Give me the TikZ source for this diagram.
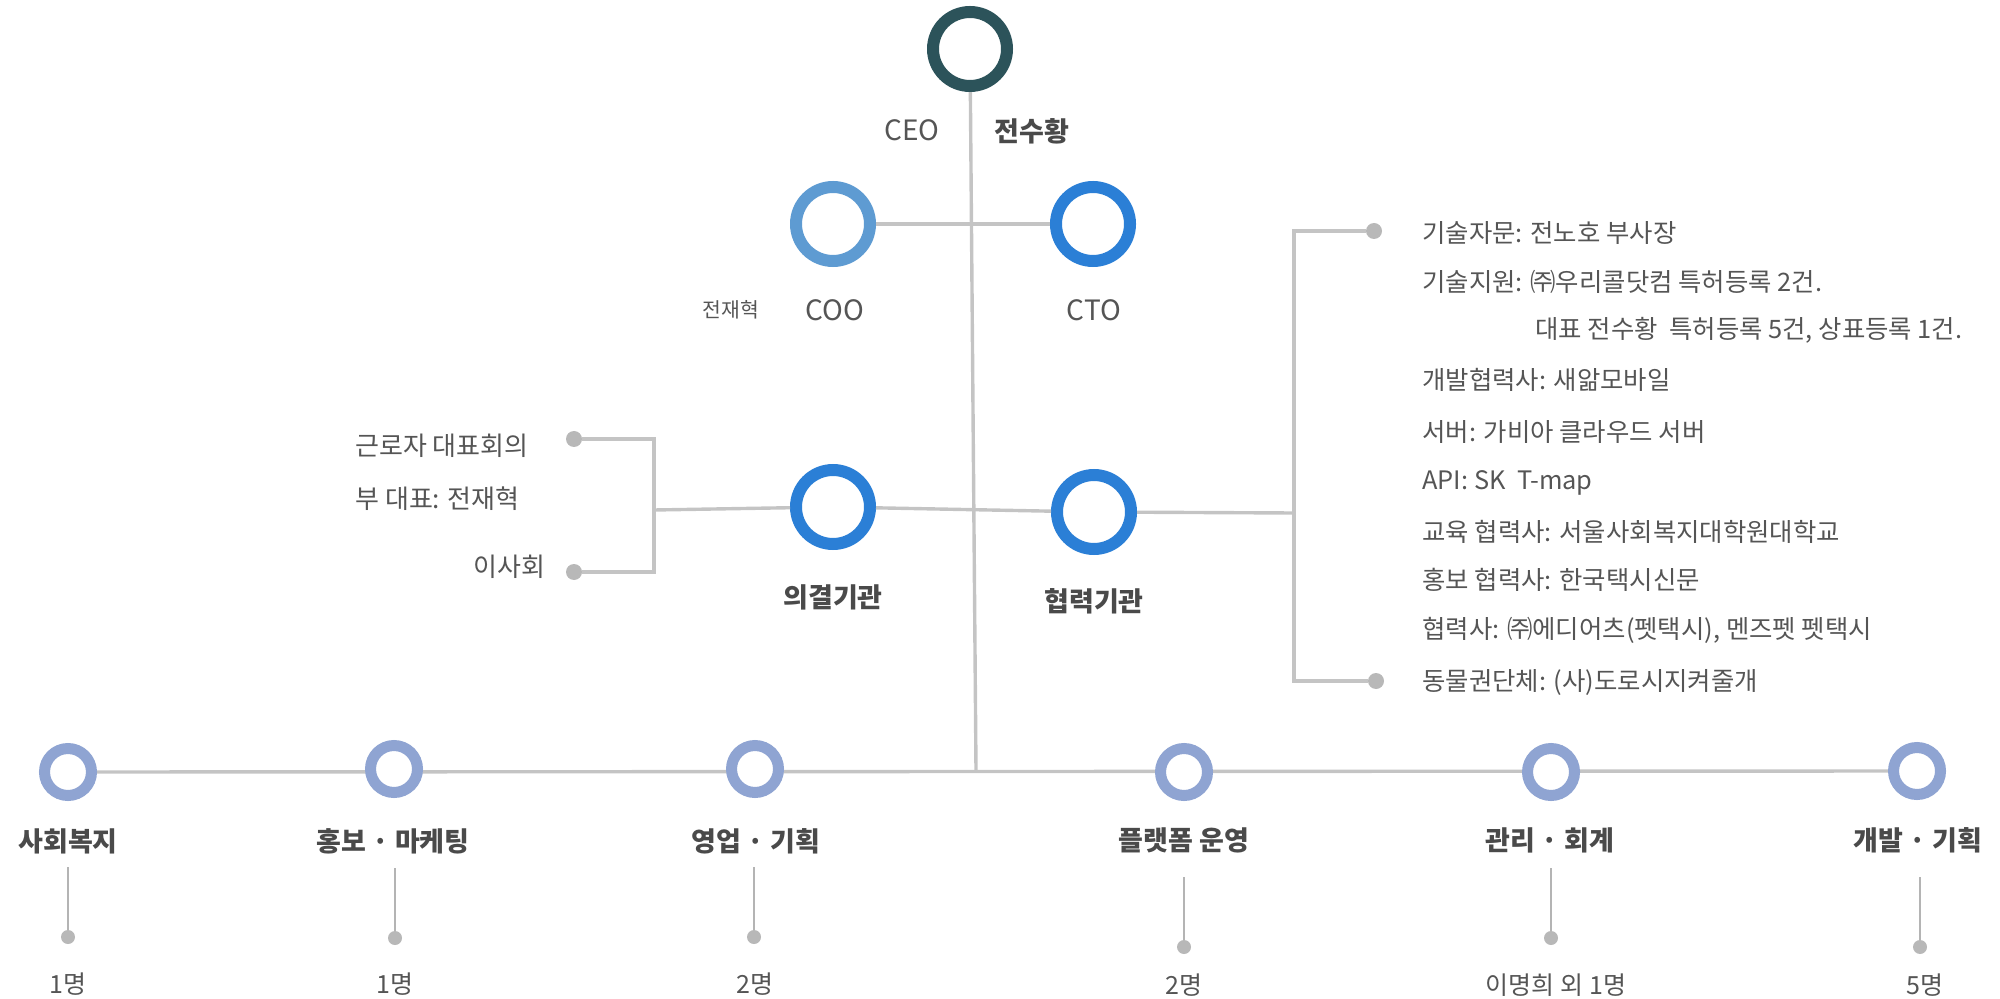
\documentclass[tikz,border=0pt]{standalone}
\usepackage{fontspec}
\setmainfont{Noto Sans CJK KR}
\usetikzlibrary{backgrounds}
\definecolor{ceoC}{HTML}{2C535A}
\definecolor{cooC}{HTML}{5E9BD2}
\definecolor{blueC}{HTML}{2B7FD6}
\definecolor{deptC}{HTML}{8FA4D2}
\definecolor{lineC}{HTML}{C4C4C4}
\definecolor{stemC}{HTML}{B4B4B4}
\definecolor{dotC}{HTML}{B8B8B8}
\definecolor{txtC}{HTML}{555555}
\definecolor{headC}{HTML}{4A4A4A}
\begin{document}
\begin{tikzpicture}[x=0.5pt,y=-0.5pt,
  big/.style={circle,draw=#1,line width=6pt,fill=white,inner sep=0pt,minimum size=37pt},
  dept/.style={circle,draw=deptC,line width=5.5pt,fill=white,inner sep=0pt,minimum size=23.5pt},
  conn/.style={draw=lineC,line width=1.7pt},
  stem/.style={draw=stemC,line width=1.3pt},
  dotn/.style={circle,fill=dotC,inner sep=0pt,minimum size=8pt},
  sdot/.style={circle,fill=dotC,inner sep=0pt,minimum size=7pt},
  txt/.style={text=txtC,font=\fontsize{12.7pt}{15pt}\selectfont,inner sep=0pt},
  ltxt/.style={text=txtC,font=\fontsize{13pt}{15pt}\selectfont,inner sep=0pt},
  role/.style={text=txtC,font=\fontsize{14pt}{16pt}\selectfont,inner sep=0pt},
  head/.style={text=headC,font=\fontsize{13.5pt}{16pt}\selectfont\bfseries,inner sep=0pt},
  cnt/.style={text=txtC,font=\fontsize{12.5pt}{15pt}\selectfont,inner sep=0pt}
]
\useasboundingbox (0,0) rectangle (2000,999);

% main circles
\node[big=ceoC] (ceo) at (970,49) {};
\node[big=cooC] (coo) at (833,224) {};
\node[big=blueC] (cto) at (1093,224) {};
\node[big=blueC] (uig) at (833,507) {};
\node[big=blueC] (hyp) at (1094,512) {};

% department circles
\node[dept] (d1) at (68,772) {};
\node[dept] (d2) at (394,769) {};
\node[dept] (d3) at (755,769) {};
\node[dept] (d4) at (1184,772) {};
\node[dept] (d5) at (1551,772) {};
\node[dept] (d6) at (1917,771) {};

\coordinate (jn) at (976,771);

\begin{pgfonlayer}{background}
  \draw[conn] (d1.center) -- (d6.center);
  \draw[conn] (ceo) -- (jn);
\end{pgfonlayer}
\draw[conn] (coo) -- (cto);

% left bracket
\coordinate (lbt) at (654,439);
\coordinate (lbm) at (654,510);
\coordinate (lbb) at (654,572);
\node[dotn] (ldt) at (574,439) {};
\node[dotn] (ldb) at (574,572) {};
\draw[conn] (ldt) -- (lbt) -- (lbb) -- (ldb);
\draw[conn] (lbm) -- (uig);
\draw[conn] (uig) -- (hyp);

% right bracket
\coordinate (rbt) at (1294,231);
\coordinate (rbm) at (1294,513);
\coordinate (rbb) at (1294,681);
\node[dotn] (rdt) at (1374,231) {};
\node[dotn] (rdb) at (1376,681) {};
\draw[conn] (rdt) -- (rbt) -- (rbb) -- (rdb);
\draw[conn] (hyp) -- (rbm);

% labels top
\node[role] (lceo) at (912,130) {CEO};
\node[head] (lceon) at (1032,131) {전수황};
\node[text=txtC,font=\fontsize{10.2pt}{12pt}\selectfont,inner sep=0pt] (lcoon) at (731,310) {전재혁};
\node[role] (lcoo) at (835,310) {COO};
\node[role] (lcto) at (1094,310) {CTO};
\node[head] (luig) at (833,597) {의결기관};
\node[head] (lhyp) at (1094,601) {협력기관};

% left texts
\node[ltxt,anchor=west] (lt1) at (355,446) {근로자 대표회의};
\node[ltxt,anchor=west] (lt2) at (355,499) {부 대표: 전재혁};
\node[ltxt,anchor=east] (lt3) at (546,567) {이사회};

% right list
\node[txt,anchor=west] (r1) at (1422,233) {기술자문: 전노호 부사장};
\node[txt,anchor=west] (r2) at (1422,282) {기술지원: ㈜우리콜닷컴 특허등록 2건.};
\node[txt,anchor=west] (r3) at (1535,330) {대표 전수황\ \ 특허등록 5건, 상표등록 1건.};
\node[txt,anchor=west] (r4) at (1422,380) {개발협력사: 새앎모바일};
\node[txt,anchor=west] (r5) at (1422,432) {서버: 가비아 클라우드 서버};
\node[txt,anchor=west] (r6) at (1422,483) {API: SK\ \ T-map};
\node[txt,anchor=west] (r7) at (1422,532) {교육 협력사: 서울사회복지대학원대학교};
\node[txt,anchor=west] (r8) at (1422,580) {홍보 협력사: 한국택시신문};
\node[txt,anchor=west] (r9) at (1422,630) {협력사: ㈜에디어츠(펫택시), 멘즈펫 펫택시};
\node[txt,anchor=west] (r10) at (1422,682) {동물권단체: (사)도로시지켜줄개};

% department labels
\node[head] (h1) at (68,841) {사회복지};
\node[head] (h2) at (393,841) {홍보 · 마케팅};
\node[head] (h3) at (756,841) {영업 · 기획};
\node[head] (h4) at (1184,840) {플랫폼 운영};
\node[head] (h5) at (1550,840) {관리 · 회계};
\node[head] (h6) at (1918,840) {개발 · 기획};

% stems
\coordinate (t1) at (68,867);   \node[sdot] (p1) at (68,937) {};
\coordinate (t2) at (395,868);  \node[sdot] (p2) at (395,938) {};
\coordinate (t3) at (754,867);  \node[sdot] (p3) at (754,937) {};
\coordinate (t4) at (1184,877); \node[sdot] (p4) at (1184,947) {};
\coordinate (t5) at (1551,868); \node[sdot] (p5) at (1551,938) {};
\coordinate (t6) at (1920,877); \node[sdot] (p6) at (1920,947) {};
\foreach \i in {1,...,6} { \draw[stem] (t\i) -- (p\i); }

% counts
\node[cnt] (c1) at (68,984) {1명};
\node[cnt] (c2) at (395,984) {1명};
\node[cnt] (c3) at (755,984) {2명};
\node[cnt] (c4) at (1184,985) {2명};
\node[cnt] (c5) at (1556,985) {이명희 외 1명};
\node[cnt] (c6) at (1925,985) {5명};
\end{tikzpicture}
\end{document}
